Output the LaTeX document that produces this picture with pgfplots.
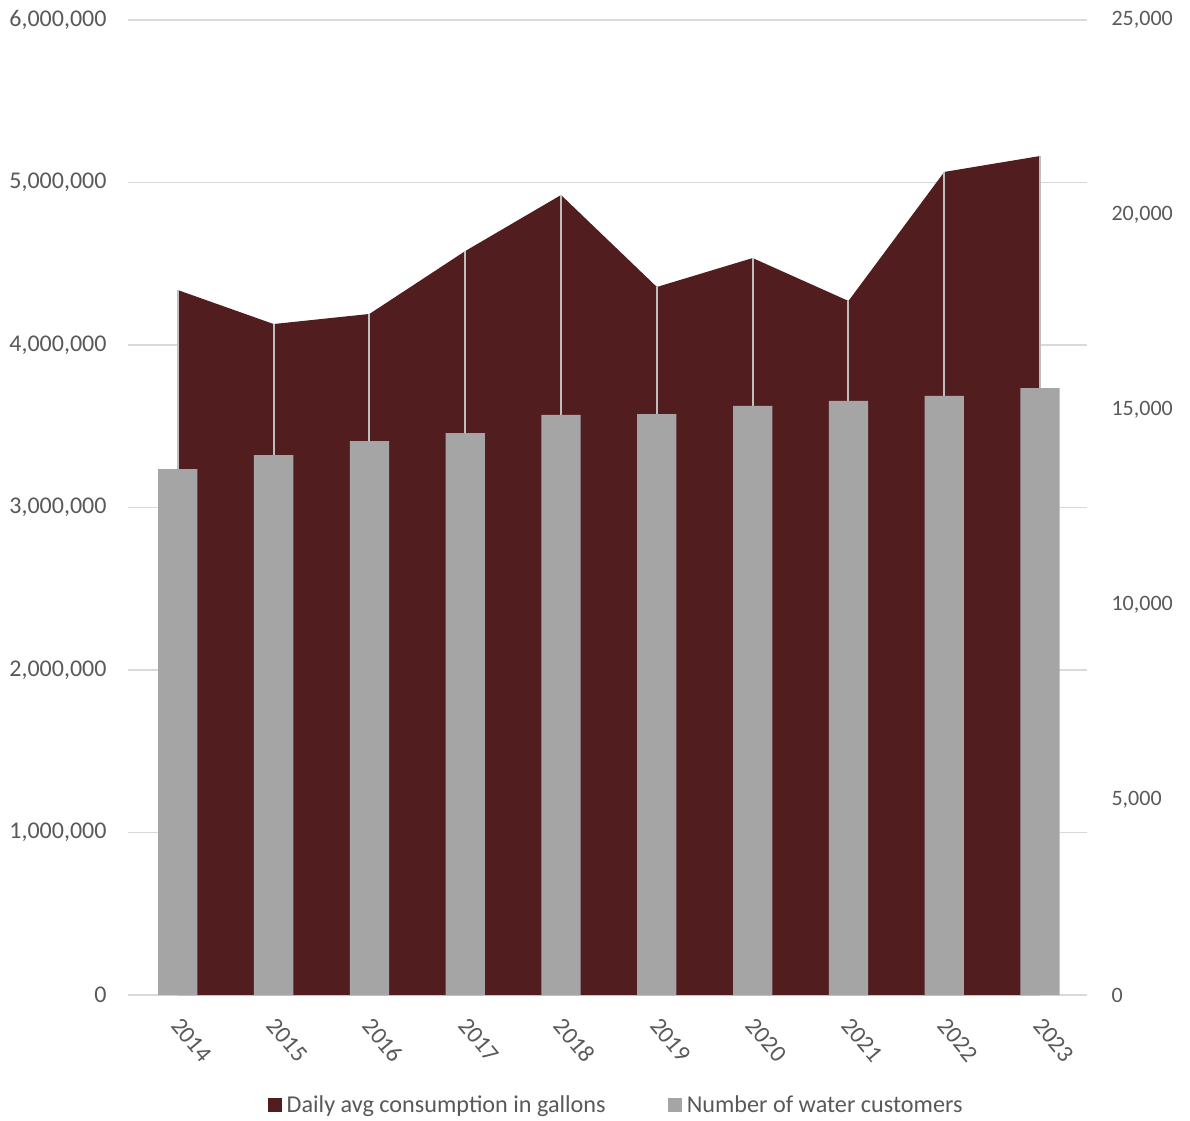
\documentclass[border=0pt]{standalone}
\usepackage{fontspec}
\setmainfont{Carlito}
\usepackage{pgfplots}
\pgfplotsset{compat=1.18}
\definecolor{maroon}{HTML}{521D1F}
\definecolor{barg}{HTML}{A5A5A5}
\definecolor{txt}{HTML}{595959}
\definecolor{gridc}{HTML}{D9D9D9}
\definecolor{dropc}{HTML}{BFBFBF}
\newcommand\fsz{\fontsize{24bp}{28bp}\selectfont}
\newcommand\fszl{\fontsize{24.2bp}{28bp}\selectfont}
\newcommand\fszr{\fontsize{22bp}{26bp}\selectfont}
\begin{document}
\begin{tikzpicture}
\pgfplotsset{
  every axis/.append style={
    scale only axis, width=959bp, height=975bp, at={(0,0)}, anchor=south west,
    xmin=-0.52, xmax=9.49, ymin=0,
    tick label style={font=\fsz, text=txt},
    major tick length=0pt,
    scaled y ticks=false,
    /pgf/number format/fixed,
    /pgf/number format/1000 sep={,},
    /pgf/number format/assume math mode=true,
  }
}
\begin{axis}[
  axis x line*=bottom, axis y line*=left,
  x axis line style={draw=gridc, line width=1.5bp, -},
  y axis line style={draw=none},
  ymax=6000000, ytick={0,1000000,2000000,3000000,4000000,5000000,6000000},
  ymajorgrids, grid style={draw=gridc, line width=1.3bp},
  xtick={0,...,9}, xticklabels={2014,2015,2016,2017,2018,2019,2020,2021,2022,2023},
  xticklabel style={rotate=-50, anchor=north west, yshift=-7bp, xshift=15.5bp},
  yticklabel style={xshift=-18bp},
]
\addplot[fill=maroon, draw=none] coordinates {
 (0,4338000) (1,4129000) (2,4191000) (3,4578000) (4,4923000)
 (5,4357000) (6,4535000) (7,4271000) (8,5065000) (9,5163000)} \closedcycle;
\addplot[ycomb, draw=dropc, line width=2bp, no marks] coordinates {
 (0,4338000) (1,4129000) (2,4191000) (3,4578000) (4,4923000)
 (5,4357000) (6,4535000) (7,4271000) (8,5065000) (9,5163000)};
\end{axis}
\begin{axis}[
  axis x line=none, axis y line*=right,
  y axis line style={draw=none},
  ymax=25000, ytick={0,5000,10000,15000,20000,25000},
  yticklabel style={xshift=21bp, font=\fszr},
  legend style={at={(0.509,-0.113)}, anchor=center, draw=none, fill=none,
    legend columns=2, font=\fszl, text=txt,
    /tikz/every even column/.append style={column sep=60bp},
    nodes={inner sep=2bp}},
  legend image code/.code={\fill[#1] (0bp,-7bp) rectangle (14bp,7bp); \path (17bp,0bp);},
]
\addplot[ybar, bar width=0.41, fill=barg, draw=none, forget plot] coordinates {
 (0,13487) (1,13846) (2,14205) (3,14410) (4,14872)
 (5,14897) (6,15103) (7,15231) (8,15359) (9,15564)};
\addlegendimage{fill=maroon, draw=none}
\addlegendentry{Daily avg consumption in gallons}
\addlegendimage{fill=barg, draw=none}
\addlegendentry{Number of water customers}
\end{axis}
\pgfresetboundingbox
\useasboundingbox (-128bp,-126bp) rectangle (1062bp,995bp);
\end{tikzpicture}
\end{document}
